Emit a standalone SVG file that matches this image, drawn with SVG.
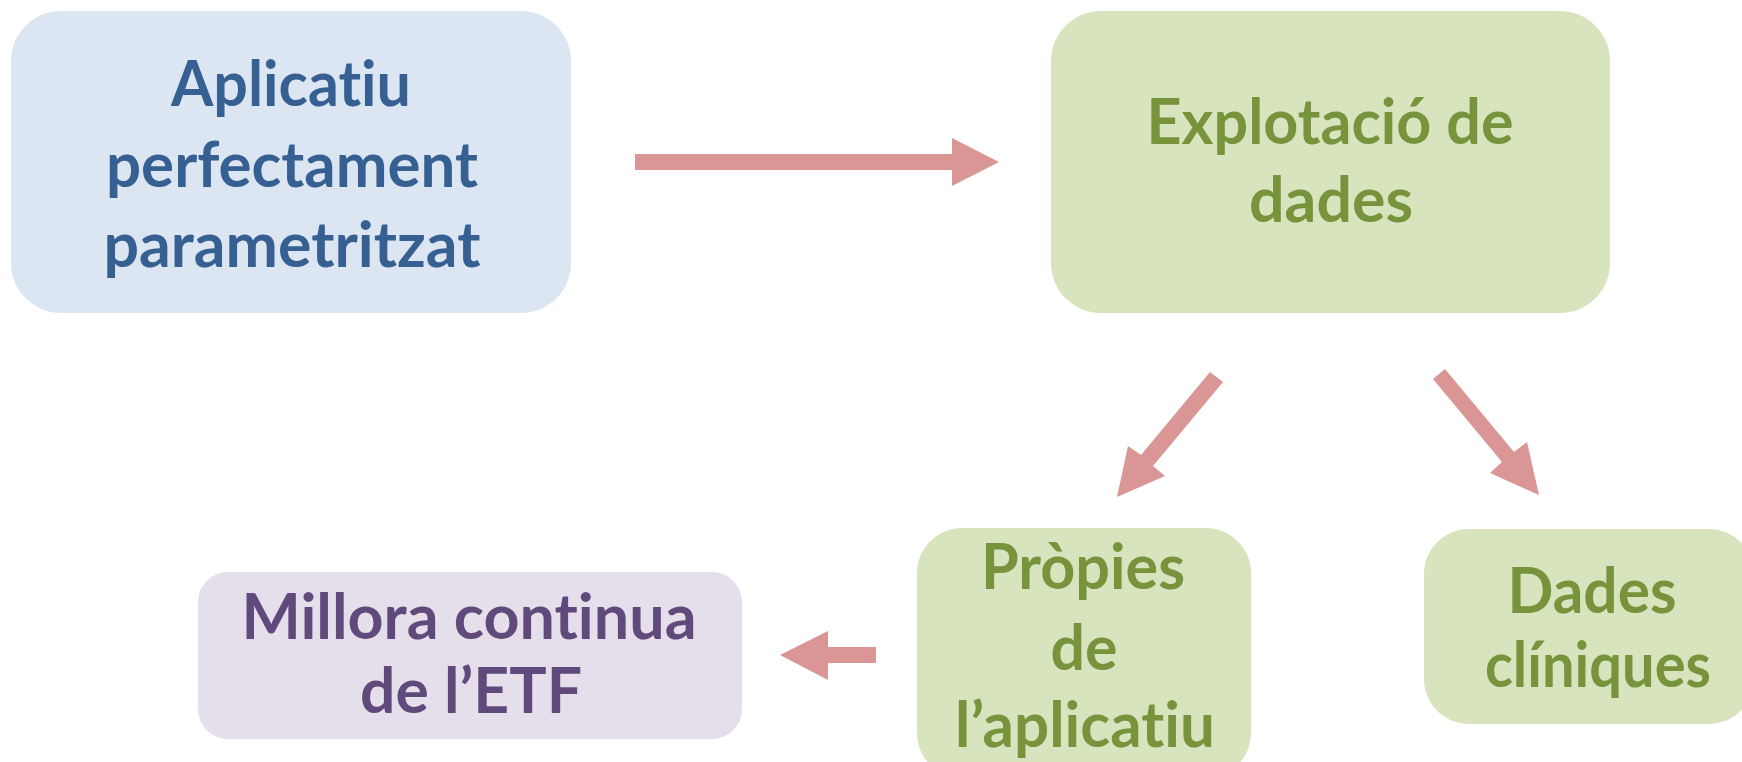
<svg xmlns="http://www.w3.org/2000/svg" width="1742" height="762" viewBox="0 0 1742 762">
<style>
  .t { font-family: "Lato", "Open Sans", "Liberation Sans", sans-serif; font-weight: 700; font-size: 63px; text-anchor: middle; font-variant-ligatures: none; font-feature-settings: "liga" 0, "clig" 0; }
  .blue rect { fill: #dce6f2; }
  .blue text { fill: #376092; }
  .green rect { fill: #d7e4bd; }
  .green text { fill: #77933c; }
  .purple rect { fill: #e5dfec; }
  .purple text { fill: #604a7b; }
  .arrow { fill: #d99694; }
</style>
<rect width="1742" height="762" fill="#ffffff"/>
<g id="node-aplicatiu" class="blue">
  <rect x="11" y="11" width="560" height="302" rx="50" ry="50"/>
  <text class="t" x="291" y="106" textLength="240" lengthAdjust="spacingAndGlyphs">Aplicatiu</text>
  <text class="t" x="292" y="187" textLength="372" lengthAdjust="spacingAndGlyphs">perfectament</text>
  <text class="t" x="292" y="267" textLength="377" lengthAdjust="spacingAndGlyphs">parametritzat</text>
</g>
<g id="node-explotacio" class="green">
  <rect x="1051" y="11" width="559" height="302" rx="50" ry="50"/>
  <text class="t" x="1330" y="144" textLength="367" lengthAdjust="spacingAndGlyphs">Explotació de</text>
  <text class="t" x="1331" y="222" textLength="164" lengthAdjust="spacingAndGlyphs">dades</text>
</g>
<g id="node-propies" class="green">
  <rect x="917" y="528" width="334" height="250" rx="45" ry="45"/>
  <text class="t" x="1083" y="589" textLength="204" lengthAdjust="spacingAndGlyphs">Pròpies</text>
  <text class="t" x="1084" y="670" textLength="67" lengthAdjust="spacingAndGlyphs">de</text>
  <text class="t" x="1085" y="747" textLength="260" lengthAdjust="spacingAndGlyphs">l’aplicatiu</text>
</g>
<g id="node-dades-cliniques" class="green">
  <rect x="1424" y="529" width="330" height="195" rx="45" ry="45"/>
  <text class="t" x="1592" y="613" textLength="169" lengthAdjust="spacingAndGlyphs">Dades</text>
  <text class="t" x="1598" y="687" textLength="226" lengthAdjust="spacingAndGlyphs">clíniques</text>
</g>
<g id="node-millora" class="purple">
  <rect x="198" y="572" width="544" height="167" rx="30" ry="30"/>
  <text class="t" x="469" y="639" textLength="455" lengthAdjust="spacingAndGlyphs">Millora continua</text>
  <text class="t" x="471" y="713" textLength="222" lengthAdjust="spacingAndGlyphs">de l’ETF</text>
</g>
<g id="connectors">
  <polygon class="arrow" points="635,154 952,154 952,138 999,162 952,186 952,170 635,170"/>
  <polygon class="arrow" points="1210,372 1223,382 1153,466 1165,476 1117,497 1128,446 1141,455"/>
  <polygon class="arrow" points="1445,369 1514,452 1527,442 1539,495 1490,473 1502,462 1433,379"/>
  <polygon class="arrow" points="876,647 828,647 828,631 780,655 828,680 828,663 876,663"/>
</g>
</svg>
